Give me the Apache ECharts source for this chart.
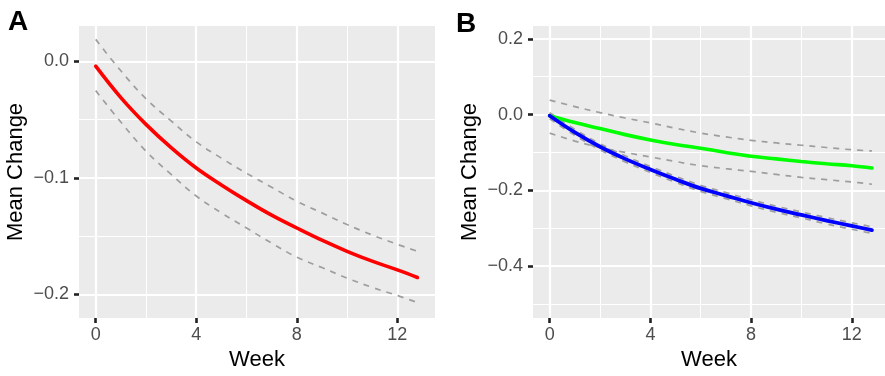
<!DOCTYPE html>
<html>
<head>
<meta charset="utf-8">
<script src="https://cdn.jsdelivr.net/npm/echarts@6/dist/echarts.min.js"></script>
<style>
html,body{margin:0;padding:0;background:#fff;}
#chart{width:885px;height:376px;}
</style>
</head>
<body>
<div id="chart"></div>
<script>
// ---- data ----
const weeks = [0,1,2,3,4,5,6,7,8,9,10,11,12,12.8];

// Panel A
const redMean  = [-0.004,-0.031,-0.054,-0.074,-0.0915,-0.106,-0.1195,-0.132,-0.143,-0.1535,-0.163,-0.1715,-0.179,-0.1855];
const redUpper = [0.019,-0.008,-0.032,-0.051,-0.069,-0.083,-0.096,-0.108,-0.120,-0.130,-0.140,-0.149,-0.157,-0.163];
const redLower = [-0.025,-0.052,-0.077,-0.097,-0.1155,-0.130,-0.143,-0.156,-0.168,-0.177,-0.186,-0.194,-0.201,-0.207];

// Panel B
const greenMean  = [-0.003,-0.021,-0.037,-0.053,-0.067,-0.079,-0.089,-0.100,-0.110,-0.117,-0.124,-0.130,-0.135,-0.141];
const greenUpper = [0.038,0.021,0.005,-0.009,-0.022,-0.036,-0.049,-0.059,-0.068,-0.075,-0.081,-0.087,-0.093,-0.096];
const greenLower = [-0.049,-0.070,-0.087,-0.100,-0.112,-0.124,-0.135,-0.143,-0.150,-0.158,-0.166,-0.172,-0.178,-0.184];
const blueMean   = [-0.003,-0.047,-0.085,-0.117,-0.145,-0.171,-0.195,-0.214,-0.233,-0.250,-0.265,-0.280,-0.294,-0.305];
const blueUpper  = [0.005,-0.039,-0.077,-0.109,-0.137,-0.163,-0.187,-0.206,-0.225,-0.242,-0.257,-0.272,-0.286,-0.296];
const blueLower  = [-0.011,-0.055,-0.093,-0.125,-0.153,-0.179,-0.203,-0.222,-0.241,-0.258,-0.273,-0.289,-0.303,-0.314];

// ticks
const xTicks = [0,4,8,12];
const xMinor = [2,6,10];
const yTicksA = [0,-0.1,-0.2];
const yMinorA = [-0.05,-0.15];
const yTicksB = [0.2,0,-0.2,-0.4];
const yMinorB = [0.1,-0.1,-0.3,-0.5];

// ---- build ----
const FONT = 'Liberation Sans, Arial, Helvetica, sans-serif';
const pair = (ys) => weeks.map((w,i)=>[w, ys[i]]);
const fmtY = v => v.toFixed(1).replace('-', '\u2212');

function xAxisFor(idx, min, max){
  return {
    gridIndex: idx, type: 'value', min: min, max: max,
    axisLine: {show:true, onZero:false, lineStyle:{color:'#EBEBEB', width:0, opacity:0}},
    splitLine: {show:false},
    axisTick: {show:true, customValues: xTicks, length: 5, lineStyle:{color:'#222222', width:2.6}},
    axisLabel: {show:true, customValues: xTicks, color:'#4D4D4D', fontSize:18, fontFamily:FONT, margin:8},
    name: 'Week', nameLocation: 'middle', nameGap: 31,
    nameTextStyle: {color:'#000', fontSize:22, fontFamily:FONT}
  };
}
function yAxisFor(idx, min, max, ticks){
  return {
    gridIndex: idx, type: 'value', min: min, max: max,
    axisLine: {show:true, onZero:false, lineStyle:{color:'#EBEBEB', width:0, opacity:0}},
    splitLine: {show:false},
    axisTick: {show:true, customValues: ticks, length: 5, lineStyle:{color:'#222222', width:2.6}},
    axisLabel: {show:true, customValues: ticks, color:'#4D4D4D', fontSize:18, fontFamily:FONT, margin:10, formatter: fmtY},
    name: 'Mean Change', nameLocation: 'middle', nameGap: 52, nameRotate: 90,
    nameTextStyle: {color:'#000', fontSize:22, fontFamily:FONT}
  };
}
function gridSeries(idx, yMajor, yMinor){
  const data = [];
  xMinor.forEach(v=>data.push({xAxis:v, lineStyle:{width:1}}));
  yMinor.forEach(v=>data.push({yAxis:v, lineStyle:{width:1}}));
  xTicks.forEach(v=>data.push({xAxis:v, lineStyle:{width:2.2}}));
  yMajor.forEach(v=>data.push({yAxis:v, lineStyle:{width:2.2}}));
  return {
    type:'line', xAxisIndex:idx, yAxisIndex:idx, z:1, silent:true,
    data:[[0,0]], symbol:'none', lineStyle:{opacity:0},
    markLine:{silent:true, z:1, symbol:['none','none'], label:{show:false},
      lineStyle:{color:'#FFFFFF', type:'solid'}, animation:false, data: data}
  };
}
function lineS(idx, ys, color, width, dashed, z){
  return {
    type:'line', xAxisIndex:idx, yAxisIndex:idx, data: pair(ys), smooth:0.4,
    symbol:'none', z: z, silent:true,
    lineStyle:{color:color, width:width, type: dashed ? [6,6] : 'solid', cap: dashed ? 'butt' : 'round'}
  };
}
const GRAY = '#9E9E9E';

const option = {
  animation:false,
  backgroundColor:'#FFFFFF',
  grid:[
    {left:79, top:26, width:356, height:296, show:true, backgroundColor:'#EBEBEB', borderWidth:0, containLabel:false},
    {left:533, top:26, width:352, height:296, show:true, backgroundColor:'#EBEBEB', borderWidth:0, containLabel:false}
  ],
  xAxis:[ xAxisFor(0, -0.665, 13.5), xAxisFor(1, -0.663, 13.32) ],
  yAxis:[ yAxisFor(0, -0.2203, 0.0305, yTicksA), yAxisFor(1, -0.5373, 0.2339, yTicksB) ],
  graphic:[
    {type:'text', left:8, top:8, style:{text:'A', font:'bold 28px ' + FONT, fill:'#000'}},
    {type:'text', left:456, top:10, style:{text:'B', font:'bold 28px ' + FONT, fill:'#000'}}
  ],
  series:[
    gridSeries(0, yTicksA, yMinorA),
    lineS(0, redUpper, GRAY, 1.7, true, 10),
    lineS(0, redLower, GRAY, 1.7, true, 10),
    lineS(0, redMean, '#FF0000', 3.6, false, 12),
    gridSeries(1, yTicksB, yMinorB),
    lineS(1, greenUpper, GRAY, 1.7, true, 10),
    lineS(1, greenLower, GRAY, 1.7, true, 10),
    lineS(1, blueUpper, GRAY, 1.7, true, 10),
    lineS(1, blueLower, GRAY, 1.7, true, 10),
    lineS(1, greenMean, '#00FF00', 3.6, false, 12),
    lineS(1, blueMean, '#0000FF', 3.8, false, 13)
  ]
};
const chart = echarts.init(document.getElementById('chart'), null, {renderer:'canvas'});
chart.setOption(option);
</script>
</body>
</html>
